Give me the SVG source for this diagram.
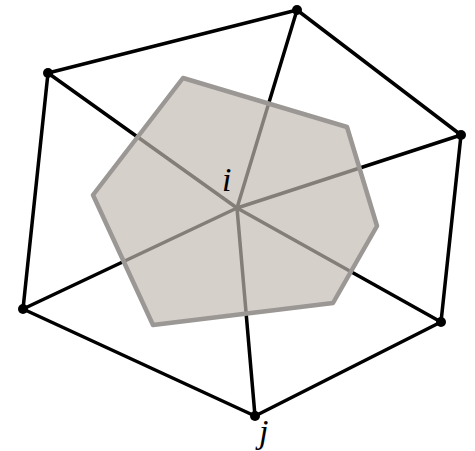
<svg xmlns="http://www.w3.org/2000/svg" width="475" height="451" viewBox="0 0 475 451">
<style>
.e{stroke:#000;stroke-width:3.5;fill:none;stroke-linecap:round;stroke-linejoin:round}
.v{fill:#000}
.lbl{font-family:"Liberation Serif",serif;font-style:italic;font-size:34px;fill:#000}
</style>
<rect width="475" height="451" fill="#fff"/>
<g id="connectors">
<polygon class="e" points="297,10 461,135 441,322 255,416 23,309 48,73"/>
<line class="e" x1="237" y1="208" x2="297" y2="10"/>
<line class="e" x1="237" y1="208" x2="461" y2="135"/>
<line class="e" x1="237" y1="208" x2="441" y2="322"/>
<line class="e" x1="237" y1="208" x2="255" y2="416"/>
<line class="e" x1="237" y1="208" x2="23" y2="309"/>
<line class="e" x1="237" y1="208" x2="48" y2="73"/>
</g>
<g id="cell">
<polygon points="183,78 347,127 377,226 333,303 153,325 93,195" fill="#c2b9b2" fill-opacity="0.68" stroke="#9a9794" stroke-width="4.5" stroke-linejoin="round"/>
</g>
<g id="n1"><circle class="v" cx="297" cy="10" r="5"/></g>
<g id="n2"><circle class="v" cx="461" cy="135" r="5"/></g>
<g id="n3"><circle class="v" cx="441" cy="322" r="5"/></g>
<g id="j"><circle class="v" cx="255" cy="416" r="5"/><text class="lbl" x="259" y="443">j</text></g>
<g id="n5"><circle class="v" cx="23" cy="309" r="5"/></g>
<g id="n6"><circle class="v" cx="48" cy="73" r="5"/></g>
<g id="i"><text class="lbl" x="222" y="191">i</text></g>
</svg>
